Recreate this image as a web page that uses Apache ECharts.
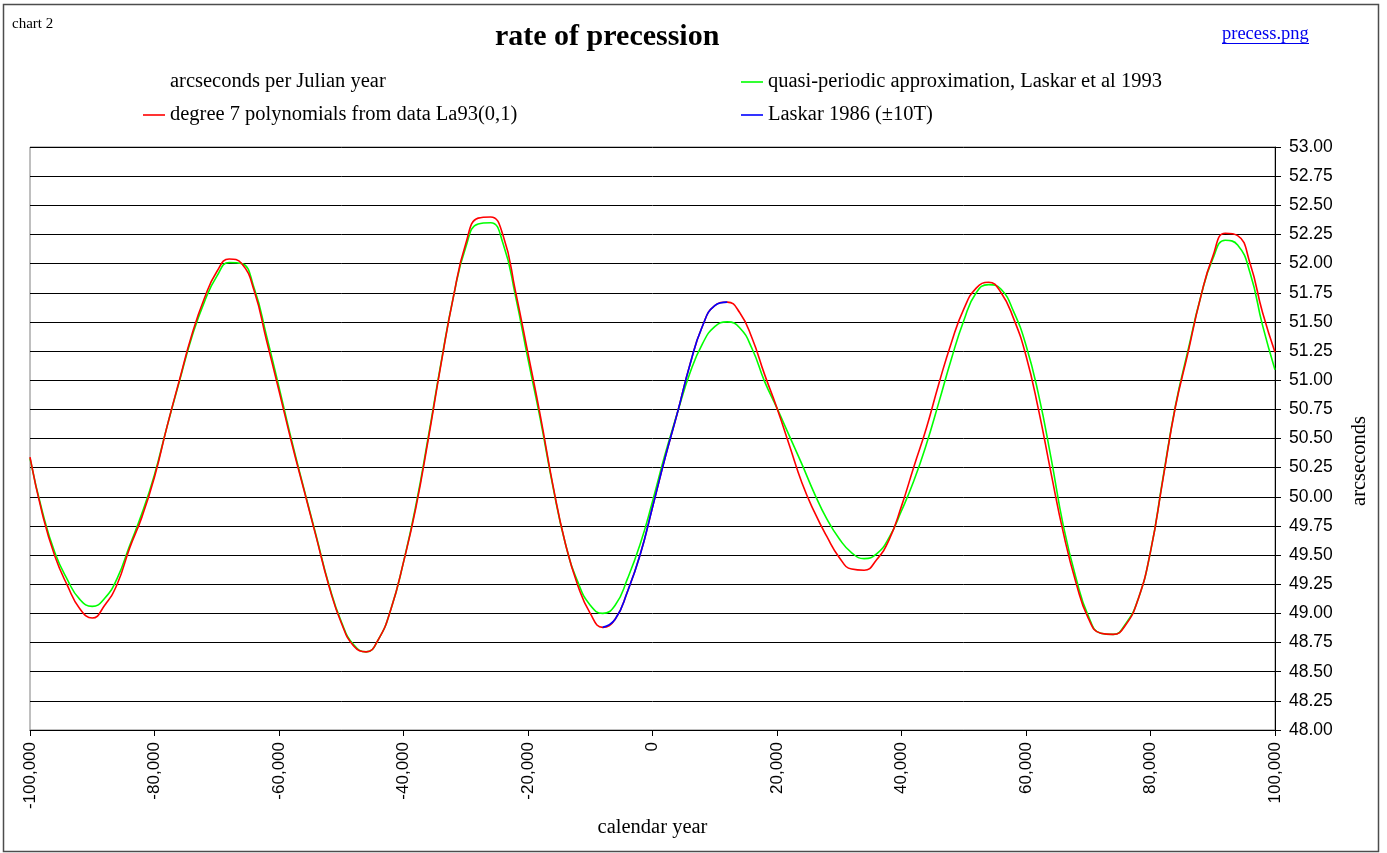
<!DOCTYPE html>
<html>
<head>
<meta charset="utf-8">
<title>rate of precession</title>
<script src="https://cdn.jsdelivr.net/npm/echarts@6/dist/echarts.min.js"></script>
<style>
  html, body { margin: 0; padding: 0; background: #ffffff; }
  #chart { width: 1387px; height: 853px; }
</style>
</head>
<body>
<div id="chart"></div>
<script>
// calendar years sampled every 2000 years
const years = [
  -100000, -98000, -96000, -94000, -92000, -90000, -88000, -86000, -84000, -82000,
  -80000, -78000, -76000, -74000, -72000, -70000, -68000, -66000, -64000, -62000,
  -60000, -58000, -56000, -54000, -52000, -50000, -48000, -46000, -44000, -42000,
  -40000, -38000, -36000, -34000, -32000, -30000, -28000, -26000, -24000, -22000,
  -20000, -18000, -16000, -14000, -12000, -10000, -8000, -6000, -4000, -2000,
  0, 2000, 4000, 6000, 8000, 10000, 12000, 14000, 16000, 18000,
  20000, 22000, 24000, 26000, 28000, 30000, 32000, 34000, 36000, 38000,
  40000, 42000, 44000, 46000, 48000, 50000, 52000, 54000, 56000, 58000,
  60000, 62000, 64000, 66000, 68000, 70000, 72000, 74000, 76000, 78000,
  80000, 82000, 84000, 86000, 88000, 90000, 92000, 94000, 96000, 98000,
  100000
];

// degree 7 polynomials from data La93(0,1), arcseconds per Julian year
const polyLa93 = [
  50.34, 49.85, 49.49, 49.24, 49.04, 48.96, 49.07, 49.25, 49.56, 49.83,
  50.17, 50.60, 51.00, 51.39, 51.70, 51.93, 52.04, 52.00, 51.77, 51.34,
  50.91, 50.47, 50.06, 49.65, 49.24, 48.92, 48.72, 48.67, 48.78, 49.04,
  49.44, 49.91, 50.50, 51.13, 51.71, 52.17, 52.39, 52.40, 52.24, 51.76,
  51.23, 50.69, 50.10, 49.60, 49.24, 49.00, 48.88, 48.95, 49.19, 49.50,
  49.91, 50.33, 50.72, 51.13, 51.46, 51.64, 51.67, 51.58, 51.36, 51.05,
  50.76, 50.44, 50.12, 49.87, 49.66, 49.48, 49.38, 49.37, 49.46, 49.63,
  49.92, 50.26, 50.59, 50.97, 51.32, 51.61, 51.79, 51.84, 51.75, 51.53,
  51.21, 50.75, 50.21, 49.69, 49.27, 48.96, 48.83, 48.82, 48.90, 49.12,
  49.53, 50.15, 50.77, 51.23, 51.70, 52.06, 52.26, 52.24, 52.00, 51.58,
  51.24
];

// quasi-periodic approximation, Laskar et al 1993
const quasiPeriodic = [
  50.33, 49.87, 49.52, 49.29, 49.12, 49.06, 49.13, 49.30, 49.58, 49.86,
  50.19, 50.60, 50.99, 51.37, 51.67, 51.89, 52.01, 52.00, 51.79, 51.38,
  50.94, 50.49, 50.07, 49.66, 49.25, 48.93, 48.73, 48.67, 48.78, 49.04,
  49.44, 49.93, 50.52, 51.14, 51.71, 52.14, 52.34, 52.35, 52.17, 51.72,
  51.18, 50.66, 50.09, 49.60, 49.27, 49.07, 49.00, 49.07, 49.30, 49.59,
  49.96, 50.36, 50.72, 51.06, 51.31, 51.46, 51.50, 51.45, 51.27, 50.99,
  50.76, 50.52, 50.28, 50.03, 49.81, 49.64, 49.52, 49.47, 49.51, 49.65,
  49.88, 50.14, 50.45, 50.81, 51.18, 51.51, 51.75, 51.82, 51.78, 51.59,
  51.30, 50.88, 50.34, 49.75, 49.31, 48.98, 48.83, 48.82, 48.91, 49.12,
  49.53, 50.16, 50.78, 51.25, 51.70, 52.04, 52.20, 52.16, 51.92, 51.47,
  51.09
];

// Laskar 1986, valid within ±10 millennia of J2000
const laskar86Years = [-8000, -6000, -4000, -2000, 0, 2000, 4000, 6000, 8000, 10000, 12000];
const laskar86 = [48.88, 48.95, 49.19, 49.50, 49.91, 50.33, 50.72, 51.13, 51.46, 51.64, 51.67];

// axis ranges and tick spacing
const yMin = 48, yMax = 53, yStep = 0.25;
const xMin = -100000, xMax = 100000, xStep = 20000;

const nameRed = 'degree 7 polynomials from data La93(0,1)';
const nameGreen = 'quasi-periodic approximation, Laskar et al 1993';
const nameBlue = 'Laskar 1986 (\u00b110T)';

const pair = (xs, ys) => xs.map((x, i) => [x, ys[i]]);

const serif = '"Liberation Serif", "Times New Roman", serif';
const sans = '"Liberation Sans", Arial, sans-serif';

const chart = echarts.init(document.getElementById('chart'), null, { renderer: 'canvas' });

const legendBase = {
  orient: 'vertical',
  padding: 0,
  icon: 'rect',
  itemWidth: 22,
  itemHeight: 1.6,
  selectedMode: false,
  textStyle: { fontFamily: serif, fontSize: 20.5, color: '#000', lineHeight: 22 }
};

const lineSeries = (name, xs, ys, color, z) => ({
  name, type: 'line', data: pair(xs, ys),
  showSymbol: false, smooth: 0.5, color,
  lineStyle: { color, width: 1.6 }, z
});

chart.setOption({
  animation: false,
  backgroundColor: '#ffffff',
  title: {
    text: 'rate of precession',
    left: 495,
    top: 22,
    padding: 0,
    textStyle: { fontFamily: serif, fontSize: 30, fontWeight: 'bold', color: '#000', lineHeight: 30 }
  },
  legend: [
    Object.assign({}, legendBase, { left: 741, top: 71, data: [nameGreen] }),
    Object.assign({}, legendBase, { left: 143, top: 104, data: [nameRed] }),
    Object.assign({}, legendBase, { left: 741, top: 104, data: [nameBlue] })
  ],
  grid: {
    left: 30, right: 112, top: 147, bottom: 123,
    show: true, borderColor: '#808080', borderWidth: 1,
    containLabel: false
  },
  xAxis: {
    type: 'value',
    min: xMin, max: xMax, interval: xStep,
    name: 'calendar year',
    nameLocation: 'middle',
    nameGap: 86,
    nameTextStyle: { fontFamily: serif, fontSize: 20.5, color: '#000' },
    axisLine: { show: true, onZero: false, lineStyle: { color: '#000', width: 1 } },
    axisTick: { show: true, length: 6, lineStyle: { color: '#000' } },
    axisLabel: {
      rotate: 90, margin: 12,
      fontFamily: sans, fontSize: 17, color: '#000',
      formatter: v => v.toLocaleString('en-US')
    },
    splitLine: { show: false }
  },
  yAxis: {
    type: 'value',
    position: 'right',
    min: yMin, max: yMax, interval: yStep,
    axisLine: { show: true, onZero: false, lineStyle: { color: '#000', width: 1 } },
    axisTick: { show: true, length: 6, lineStyle: { color: '#000' } },
    axisLabel: {
      margin: 14,
      fontFamily: sans, fontSize: 17.5, color: '#000',
      formatter: v => v.toFixed(2)
    },
    splitLine: { show: true, lineStyle: { color: '#000', width: 1 } }
  },
  series: [
    lineSeries(nameGreen, years, quasiPeriodic, '#00ff00', 2),
    lineSeries(nameRed, years, polyLa93, '#ff0000', 3),
    lineSeries(nameBlue, laskar86Years, laskar86, '#0000ff', 4)
  ],
  graphic: [
    {
      type: 'rect', silent: true, z: 0,
      shape: { x: 3.5, y: 4.5, width: 1375, height: 847 },
      style: { fill: 'none', stroke: '#4d4d4d', lineWidth: 1.5 }
    },
    {
      type: 'text', left: 12, top: 17,
      style: { text: 'chart 2', font: '15px ' + serif, fill: '#000' }
    },
    {
      type: 'text', x: 1222, y: 34,
      style: { text: 'precess.png', font: '18.5px ' + serif, fill: '#0000ee', verticalAlign: 'middle' }
    },
    {
      type: 'line', silent: true,
      shape: { x1: 1222, y1: 43.5, x2: 1309, y2: 43.5 },
      style: { stroke: '#0000ee', lineWidth: 1 }
    },
    {
      type: 'text', x: 170, y: 82,
      style: { text: 'arcseconds per Julian year', font: '20.5px ' + serif, fill: '#000', verticalAlign: 'middle' }
    },
    {
      type: 'text', x: 1360, y: 461, rotation: Math.PI / 2,
      style: { text: 'arcseconds', font: '20.5px ' + serif, fill: '#000', align: 'center', verticalAlign: 'middle' }
    }
  ]
});
</script>
</body>
</html>
